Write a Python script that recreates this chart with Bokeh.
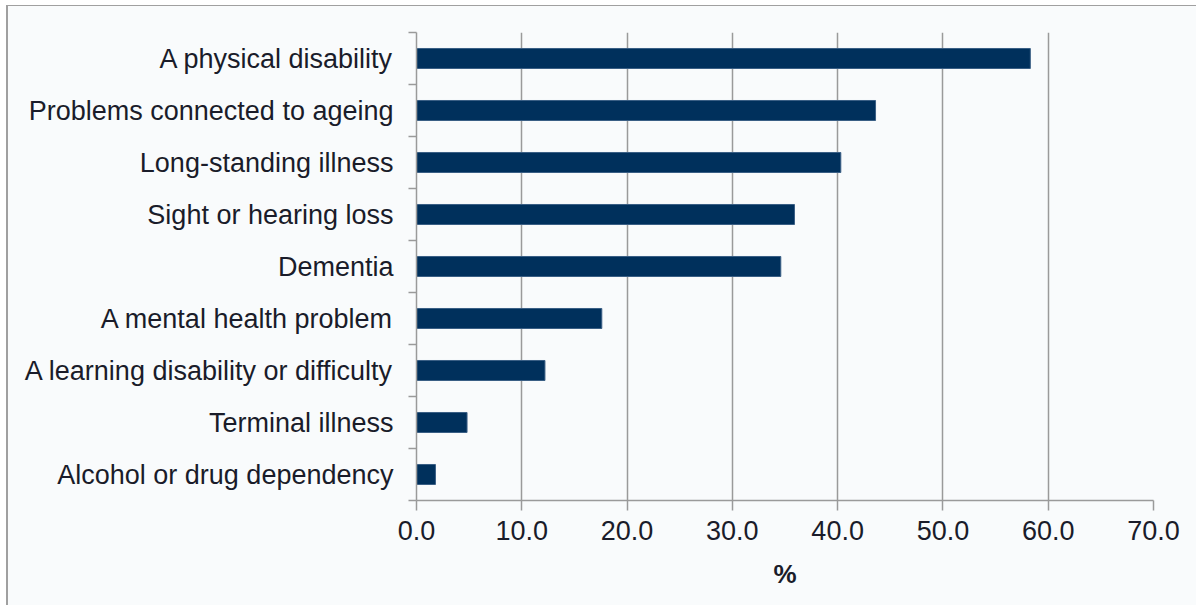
from bokeh.plotting import figure
from bokeh.models import Range1d, FixedTicker, NumeralTickFormatter
from bokeh.embed import file_html
from bokeh.resources import INLINE

categories = [
    "A physical disability",
    "Problems connected to ageing",
    "Long-standing illness",
    "Sight or hearing loss",
    "Dementia",
    "A mental health problem",
    "A learning disability or difficulty",
    "Terminal illness",
    "Alcohol or drug dependency",
]
values = [58.3, 43.6, 40.3, 35.9, 34.6, 17.6, 12.2, 4.8, 1.8]
x_ticks = [0, 10, 20, 30, 40, 50, 60, 70]
x_label = "%"

n = len(categories)
ypos = [n - 0.5 - i for i in range(n)]

FONT = "Liberation Sans"
TEXT = "#1a1c2a"
GRID = "#9a9a9a"
BG = "#f9fbfc"

p = figure(width=1196, height=605, output_backend="svg", toolbar_location=None,
           x_range=Range1d(0, 70), y_range=Range1d(0, n),
           min_border_left=416, min_border_right=43, min_border_top=32, min_border_bottom=105)
p.background_fill_color = BG
p.border_fill_alpha = 0
p.outline_line_color = None
p.styles = {
    "background": (
        "linear-gradient(#a0a0a0,#a0a0a0) 6px 5px / 2px 100% no-repeat, "
        "linear-gradient(#a0a0a0,#a0a0a0) 6px 5px / 100% 1px no-repeat, "
        "linear-gradient(#f9fbfc,#f9fbfc) 6px 5px / 100% 100% no-repeat, "
        "#ffffff"
    )
}

p.hbar(y=ypos, right=values, left=0, height=0.385, fill_color="#00305c",
       line_color="#3a5f85", line_width=1)

# x axis
p.xaxis.ticker = FixedTicker(ticks=x_ticks)
p.xaxis.formatter = NumeralTickFormatter(format="0.0")
p.xaxis.axis_line_color = GRID
p.xaxis.axis_line_width = 1.5
p.xaxis.major_tick_line_color = GRID
p.xaxis.major_tick_line_width = 1.5
p.xaxis.major_tick_out = 10
p.xaxis.major_tick_in = 0
p.xaxis.minor_tick_line_color = None
p.xaxis.major_label_text_font = FONT
p.xaxis.major_label_text_font_size = "27px"
p.xaxis.major_label_text_color = TEXT
p.xaxis.major_label_standoff = 10
p.xaxis.axis_label = x_label
p.xaxis.axis_label_text_font = FONT
p.xaxis.axis_label_text_font_size = "26px"
p.xaxis.axis_label_text_font_style = "bold"
p.xaxis.axis_label_text_color = TEXT
p.xaxis.axis_label_standoff = 16

# y axis: labels at category centres, ticks at boundaries
p.yaxis.ticker = FixedTicker(ticks=ypos, minor_ticks=list(range(n + 1)))
p.yaxis.major_label_overrides = {y: c for y, c in zip(ypos, categories)}
p.yaxis.axis_line_color = GRID
p.yaxis.axis_line_width = 1.5
p.yaxis.major_tick_line_color = None
p.yaxis.minor_tick_line_color = GRID
p.yaxis.minor_tick_line_width = 1.5
p.yaxis.minor_tick_out = 8
p.yaxis.minor_tick_in = 0
p.yaxis.major_label_text_font = FONT
p.yaxis.major_label_text_font_size = "27px"
p.yaxis.major_label_text_color = TEXT
p.yaxis.major_label_standoff = 15

p.xgrid.grid_line_color = GRID
p.xgrid.grid_line_width = 1.5
p.ygrid.grid_line_color = None

open("out.html", "w").write(file_html(p, INLINE))
